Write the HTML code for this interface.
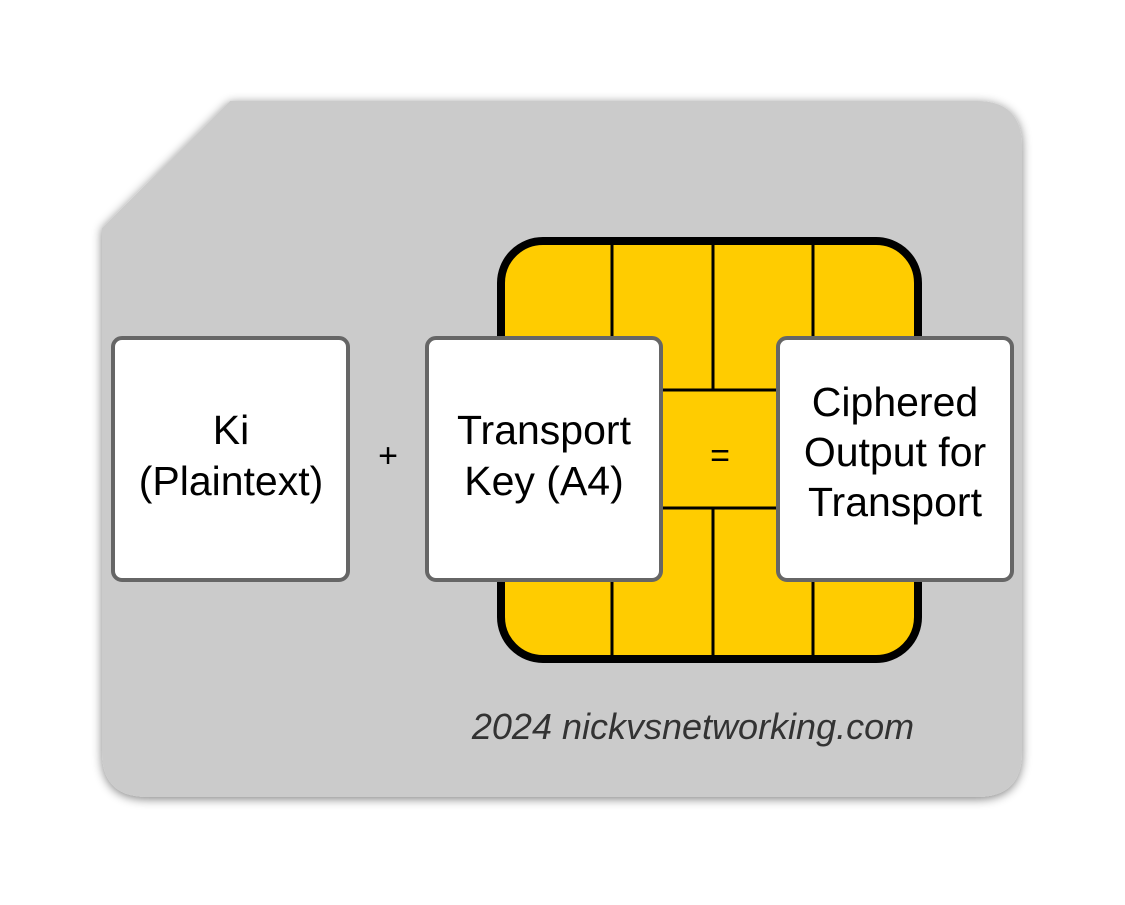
<!DOCTYPE html>
<html><head><style>
body{margin:0;background:#fff;width:1125px;height:900px;overflow:hidden;font-family:"Liberation Sans",sans-serif}
</style></head><body>
<svg width="1125" height="900" xmlns="http://www.w3.org/2000/svg">
<defs><filter id="s" x="-10%" y="-10%" width="120%" height="120%"><feGaussianBlur in="SourceAlpha" stdDeviation="5"/><feOffset dx="0" dy="2"/><feComponentTransfer><feFuncA type="linear" slope="0.5"/></feComponentTransfer><feMerge><feMergeNode/><feMergeNode in="SourceGraphic"/></feMerge></filter></defs>
<path d="M230,101 L977,101 Q1022,101 1022,146 L1022,752 Q1022,797 977,797 L147,797 Q102,797 102,752 L102,228 Z" fill="#cbcbcb" filter="url(#s)"/>
<rect x="501" y="241" width="417" height="418" rx="42" fill="#ffcc00" stroke="#000" stroke-width="8"/>
<g stroke="#000" stroke-width="3">
<line x1="612" y1="241" x2="612" y2="390"/><line x1="713" y1="241" x2="713" y2="390"/><line x1="813" y1="241" x2="813" y2="390"/>
<line x1="612" y1="508" x2="612" y2="659"/><line x1="713" y1="508" x2="713" y2="659"/><line x1="813" y1="508" x2="813" y2="659"/>
<line x1="612" y1="390" x2="813" y2="390"/><line x1="612" y1="508" x2="813" y2="508"/>
<line x1="612" y1="390" x2="612" y2="508"/>
</g>
<g fill="#fff" stroke="#666" stroke-width="4">
<rect x="113" y="338" width="235" height="242" rx="9"/>
<rect x="427" y="338" width="234" height="242" rx="9"/>
<rect x="778" y="338" width="234" height="242" rx="9"/>
</g>
<g font-size="41" text-anchor="middle" fill="#000">
<text x="231" y="444">Ki</text><text x="231" y="495">(Plaintext)</text>
<text x="544" y="444">Transport</text><text x="544" y="495">Key (A4)</text>
<text x="895" y="416">Ciphered</text><text x="895" y="466">Output for</text><text x="895" y="516">Transport</text>
<text x="388" y="467" font-size="34">+</text>
<text x="720" y="467" font-size="34">=</text>
</g>
<text x="693" y="739" font-size="36" font-style="italic" fill="#333" text-anchor="middle">2024 nickvsnetworking.com</text>
</svg>
</body></html>
